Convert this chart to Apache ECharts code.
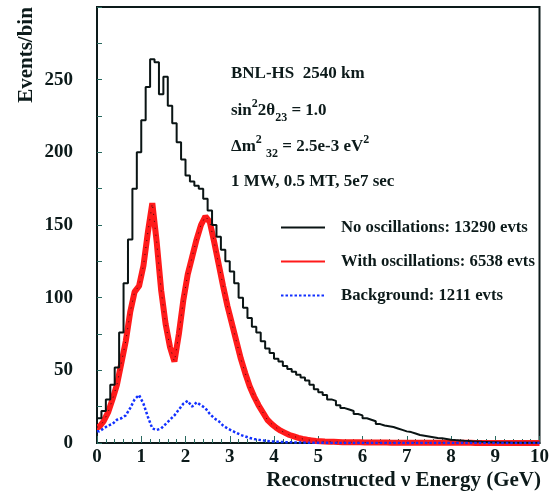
<!DOCTYPE html>
<html>
<head>
<meta charset="utf-8">
<script src="https://cdn.jsdelivr.net/npm/echarts@6/dist/echarts.min.js"></script>
<style>
  html, body { margin: 0; padding: 0; background: #fff; }
  #chart { width: 552px; height: 495px; }
</style>
</head>
<body>
<div id="chart"></div>
<script>
// Reconstructed neutrino energy spectra, 0.1 GeV wide bins from 0 to 10 GeV
const binWidth = 0.1;

// Events per bin, no oscillations
const noOscillation = [
  17, 22, 30, 40, 52, 76, 110, 140, 175, 200,
  222, 245, 264, 262, 240, 252, 232, 220, 207, 195,
  184, 180, 177, 175, 168, 160, 150, 142, 133, 125,
  118, 110, 100, 93, 86, 80, 76, 70, 65, 62,
  58, 56, 53, 51, 49, 47, 45, 43, 40, 37,
  35, 33, 30, 29, 26, 24, 23, 22, 20, 19,
  17, 16, 15, 13, 12, 11.5, 11, 10, 9, 8,
  7.5, 6.5, 5.5, 5, 4.5, 4, 3.5, 3.2, 2.8, 2.3,
  2, 1.8, 1.5, 1.3, 1.1, 1, 0.8, 0.7, 0.6, 0.5,
  0.4, 0.3, 0.3, 0.2, 0.2, 0.2, 0.1, 0.1, 0.1, 0.1
];

// Events per bin, with oscillations
const withOscillation = [
  11, 15, 21, 30, 40, 55, 70, 90, 104, 108,
  122, 145, 165, 138, 105, 82, 66, 56, 75, 98,
  116, 128, 140, 150, 156, 152, 138, 123, 108, 94,
  82, 70, 58, 48, 39, 32, 26, 21, 16, 13,
  10.5, 8.5, 7, 5.5, 4.5, 3.5, 2.8, 2.2, 1.8, 1.4,
  1.2, 1, 0.9, 0.8, 0.7, 0.6, 0.6, 0.5, 0.5, 0.5,
  0.4, 0.4, 0.3, 0.3, 0.3, 0.3, 0.2, 0.2, 0.2, 0.2,
  0.2, 0.2, 0.1, 0.1, 0.1, 0.1, 0.1, 0.1, 0.1, 0.1,
  0.1, 0.1, 0.1, 0.1, 0.1, 0, 0, 0, 0, 0,
  0, 0, 0, 0, 0, 0, 0, 0, 0, 0
];

// Events per bin, background
const background = [
  8, 10, 12, 13, 16, 17, 19, 24, 30, 33,
  27, 18, 10, 9, 10, 13, 16, 19, 23, 27,
  29, 25, 28, 26, 24, 20, 17, 15, 12, 10,
  8.5, 7, 5.5, 4.5, 3.5, 2.8, 2.2, 1.8, 1.4, 1.1,
  0.9, 0.7, 0.6, 0.5, 0.4, 0.3, 0.3, 0.2, 0.2, 0.1,
  0.1, 0.1, 0.1, 0, 0, 0, 0, 0, 0, 0,
  0, 0, 0, 0, 0, 0, 0, 0, 0, 0,
  0, 0, 0, 0, 0, 0, 0, 0, 0, 0,
  0, 0, 0, 0, 0, 0, 0, 0, 0, 0,
  0, 0, 0, 0, 0, 0, 0, 0, 0, 0
];

const seriesNames = [
  'No oscillations: 13290 evts',
  'With oscillations: 6538 evts',
  'Background: 1211 evts'
];

const yTicks = [0, 50, 100, 150, 200, 250];

// Histogram outline: each bin drawn from its left edge, closed at the last edge
function stepData(values) {
  const pts = values.map((v, i) => [+(i * binWidth).toFixed(2), v]);
  pts.push([+(values.length * binWidth).toFixed(2), values[values.length - 1]]);
  return pts;
}
// Polyline through bin centres, pinned to both ends of the range
function centreData(values) {
  const pts = values.map((v, i) => [+((i + 0.5) * binWidth).toFixed(3), v]);
  pts.unshift([0, values[0]]);
  pts.push([+(values.length * binWidth).toFixed(2), values[values.length - 1]]);
  return pts;
}

const ink = '#0c1a1a';
const tickInk = '#2a6a60';
const serif = '"Liberation Serif", "Times New Roman", serif';

const chart = echarts.init(document.getElementById('chart'), null, { renderer: 'canvas' });

const base = { fontFamily: serif, fontWeight: 'bold', fontSize: 17, fill: ink, lineHeight: 26, verticalAlign: 'middle' };
const sup = { fontFamily: serif, fontWeight: 'bold', fontSize: 12, fill: ink, lineHeight: 12, verticalAlign: 'top' };
const sub = { fontFamily: serif, fontWeight: 'bold', fontSize: 12, fill: ink, lineHeight: 12, verticalAlign: 'bottom' };

chart.setOption({
  animation: false,
  backgroundColor: '#fff',
  grid: {
    left: 97, right: 11, top: 7, bottom: 52,
    show: true, borderColor: ink, borderWidth: 2, backgroundColor: 'transparent'
  },
  legend: {
    orient: 'vertical',
    left: 275, top: 214,
    itemWidth: 44, itemHeight: 20, itemGap: 17,
    selectedMode: false,
    data: seriesNames,
    itemStyle: { opacity: 0 },
    textStyle: {
      fontFamily: serif, fontWeight: 'bold', fontSize: 16.7, color: ink,
      padding: [0, 0, 3, 11]
    }
  },
  xAxis: {
    type: 'value', min: 0, max: 10, interval: 1,
    axisLine: { lineStyle: { color: ink, width: 2 } },
    axisTick: { inside: true, length: 7, lineStyle: { color: tickInk, width: 1 } },
    minorTick: { show: true, splitNumber: 5, length: 4, lineStyle: { color: tickInk, width: 1 } },
    splitLine: { show: false },
    axisLabel: { margin: 5, fontFamily: serif, fontWeight: 'bold', fontSize: 19, color: ink }
  },
  yAxis: {
    type: 'value', min: 0, max: 300, interval: 50,
    axisLine: { lineStyle: { color: ink, width: 2 } },
    axisTick: { inside: true, length: 5, lineStyle: { color: tickInk, width: 1 } },
    minorTick: { show: true, splitNumber: 2, length: 5, lineStyle: { color: tickInk, width: 1 } },
    splitLine: { show: false },
    axisLabel: {
      margin: 24, fontFamily: serif, fontWeight: 'bold', fontSize: 19, color: ink,
      formatter: v => (yTicks.indexOf(v) >= 0 ? String(v) : '')
    }
  },
  series: [
    {
      name: seriesNames[0], type: 'line', step: 'end', symbol: 'none',
      data: stepData(noOscillation),
      lineStyle: { color: '#0a1414', width: 2 }, itemStyle: { color: '#0a1414' }, z: 3
    },
    {
      name: seriesNames[1], type: 'line', symbol: 'none',
      data: centreData(withOscillation),
      lineStyle: { color: '#ff1a1a', width: 6 }, itemStyle: { color: '#ff1a1a' }, z: 2
    },
    {
      name: 'centre', type: 'line', symbol: 'none',
      data: centreData(withOscillation),
      lineStyle: { color: '#3a0a0a', width: 1, type: [1, 6] }, z: 2, silent: true
    },
    {
      name: seriesNames[2], type: 'line', symbol: 'none',
      data: centreData(background),
      lineStyle: { color: '#1230ff', width: 2.5, type: [2.5, 2] }, itemStyle: { color: '#1230ff' }, z: 4
    }
  ],
  graphic: [
    {
      type: 'text', x: 27, y: 55, rotation: Math.PI / 2,
      style: { text: 'Events/bin', font: 'bold 21px ' + serif, fill: ink, align: 'center', verticalAlign: 'middle' }
    },
    {
      type: 'text', x: 541, y: 481,
      style: { text: 'Reconstructed \u03bd Energy (GeV)', font: 'bold 21px ' + serif, fill: ink, align: 'right', verticalAlign: 'middle' }
    },
    {
      type: 'text', x: 231, y: 74,
      style: { text: 'BNL-HS  2540 km', font: 'bold 17px ' + serif, fill: ink, align: 'left', verticalAlign: 'middle' }
    },
    {
      type: 'text', x: 231, y: 111,
      style: {
        text: '{b|sin}{p|2}{b|2\u03b8}{s|23}{b| = 1.0}',
        verticalAlign: 'middle', align: 'left',
        rich: { b: base, p: sup, s: sub }
      }
    },
    {
      type: 'text', x: 231, y: 147,
      style: {
        text: '{b|\u0394m}{p|2}{b| }{s|32}{b| = 2.5e-3 eV}{p|2}',
        verticalAlign: 'middle', align: 'left',
        rich: { b: base, p: sup, s: sub }
      }
    },
    {
      type: 'text', x: 231, y: 182,
      style: { text: '1 MW, 0.5 MT, 5e7 sec', font: 'bold 17px ' + serif, fill: ink, align: 'left', verticalAlign: 'middle' }
    }
  ]
});
</script>
</body>
</html>
